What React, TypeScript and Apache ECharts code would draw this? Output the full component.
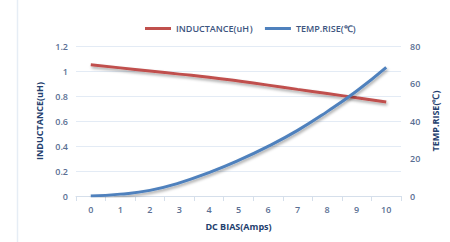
import React, { useEffect, useRef } from "react";
import * as echarts from "echarts";

const categories = ["0", "1", "2", "3", "4", "5", "6", "7", "8", "9", "10"];
const inductance = [1.05, 1.025, 1.0, 0.975, 0.95, 0.92, 0.887, 0.853, 0.82, 0.786, 0.752];
const tempRise = [0, 1, 3, 7, 12.5, 19, 26.5, 35, 45, 56, 68.6];
const seriesNames = ["INDUCTANCE(uH）", "TEMP.RISE(℃)"];

const tickColor = "#5a6f93";
const nameColor = "#23406e";
const gridColor = "#e3ebf5";

export default function App() {
  const ref = useRef<HTMLDivElement>(null);
  useEffect(() => {
    if (!ref.current) return;
    const chart = echarts.init(ref.current, undefined, { renderer: "svg" });
    const shadow = {
      shadowColor: "rgba(0,0,0,0.35)",
      shadowBlur: 3,
      shadowOffsetY: 2,
      shadowOffsetX: 1,
    };
    chart.setOption({
      animation: false,
      backgroundColor: "#ffffff",
      textStyle: { fontFamily: "Open Sans" },
      graphic: [
        {
          type: "line",
          shape: { x1: 17.5, y1: 0, x2: 17.5, y2: 242 },
          style: { stroke: "#e6edf5", lineWidth: 1.5 },
        },
      ],
      legend: {
        top: 19,
        left: 140,
        itemWidth: 26,
        itemHeight: 3,
        itemGap: 7,
        icon: "rect",
        textStyle: { color: "#3d5580", fontSize: 9, fontWeight: 600, fontFamily: "Open Sans" },
        data: seriesNames,
      },
      grid: { left: 76, right: 49, top: 46, bottom: 46 },
      xAxis: {
        type: "category",
        data: categories,
        boundaryGap: true,
        name: "DC BIAS(Amps)",
        nameLocation: "middle",
        nameGap: 26,
        nameTextStyle: { color: nameColor, fontSize: 9, fontWeight: "bold" },
        axisLine: { lineStyle: { color: "#d5dfeb" } },
        axisTick: { show: true, length: 5, lineStyle: { color: "#d5dfeb" } },
        axisLabel: { color: tickColor, fontSize: 9, margin: 9, fontWeight: 600 },
        splitLine: { show: false },
      },
      yAxis: [
        {
          type: "value",
          min: 0,
          max: 1.2,
          interval: 0.2,
          name: "INDUCTANCE(uH)",
          nameLocation: "middle",
          nameGap: 26,
          nameRotate: 90,
          nameTextStyle: { color: nameColor, fontSize: 9, fontWeight: "bold" },
          axisLine: { show: false },
          axisTick: { show: false },
          axisLabel: {
            color: tickColor,
            fontSize: 9,
            margin: 8,
            fontWeight: 600,
            formatter: (v: number) => String(Math.round(v * 10) / 10),
          },
          splitLine: { lineStyle: { color: gridColor, width: 1 } },
        },
        {
          type: "value",
          min: 0,
          max: 80,
          interval: 20,
          name: "TEMP.RISE(℃)",
          nameLocation: "middle",
          nameGap: 26,
          nameRotate: 90,
          nameTextStyle: { color: nameColor, fontSize: 9, fontWeight: "bold" },
          axisLine: { show: false },
          axisTick: { show: false },
          axisLabel: { color: tickColor, fontSize: 9, margin: 9, fontWeight: 600 },
          splitLine: { show: false },
        },
      ],
      series: [
        {
          name: seriesNames[0],
          type: "line",
          yAxisIndex: 0,
          data: inductance,
          smooth: true,
          symbol: "none",
          color: "#c0504d",
          lineStyle: { width: 3, color: "#c0504d", ...shadow },
        },
        {
          name: seriesNames[1],
          type: "line",
          yAxisIndex: 1,
          data: tempRise,
          smooth: true,
          symbol: "none",
          color: "#4f81bd",
          lineStyle: { width: 3, color: "#4f81bd", ...shadow },
        },
      ],
    });
    return () => chart.dispose();
  }, []);
  return <div ref={ref} style={{ width: 450, height: 242, position: "fixed", left: 0, top: 0 }} />;
}
